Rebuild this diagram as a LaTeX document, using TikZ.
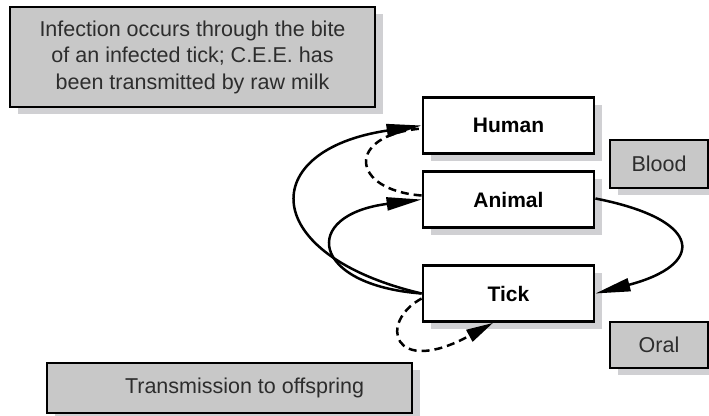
\documentclass[tikz,border=0pt]{standalone}
\usepackage{fontspec}
\setmainfont{Liberation Sans}
\usetikzlibrary{arrows.meta, shadows}
\definecolor{boxGray}{RGB}{200,200,200}
\definecolor{shadowGray}{RGB}{208,208,211}
\definecolor{textGray}{RGB}{45,45,45}

\begin{document}
\begin{tikzpicture}[x=1pt, y=-1pt,
    notebox/.style={rectangle, draw=black, line width=2.8pt, fill=boxGray,
    text=textGray, inner sep=0pt, align=center,
    font=\fontsize{21.5}{26.5}\selectfont,
    drop shadow={shadow xshift=8pt, shadow yshift=-7pt, fill=shadowGray, opacity=1}},
    hostbox/.style={notebox, fill=white, text=black, minimum width=171pt,
    minimum height=56pt, font=\fontsize{21}{24}\selectfont\bfseries},
    arrow/.style={-{Triangle[length=35pt,width=13pt]}, line width=2.5pt},
    dashline/.style={line width=2.5pt, dash pattern=on 8pt off 5pt},
    dasharrow/.style={-{Triangle[length=27pt,width=13pt]}, line width=2.5pt,
    dash pattern=on 8pt off 5pt}
]
\useasboundingbox (0,0) rectangle (709,415);
% Note
\node[notebox, minimum width=365pt, minimum height=100pt] (note) at (192.5,57) {
    Infection occurs through the bite\\
    of an infected tick; C.E.E. has\\
    been transmitted by raw milk
};
% Hosts
\node[hostbox] (human) at (508.5,125.5) {Human};
\node[hostbox] (animal) at (508.5,199.5) {Animal};
\node[hostbox] (tick) at (508.5,293.5) {Tick};
% Routes
\node[notebox, minimum width=98pt, minimum height=48pt] (blood) at (659,164) {Blood};
\node[notebox, minimum width=98pt, minimum height=46pt] (oral) at (659,345) {Oral};
% Offspring
\node[notebox, minimum width=365pt, minimum height=50pt] (offspring) at (229.5,388) {\hspace*{30pt}Transmission to offspring};

\draw[arrow] (tick.west) .. controls (258,255) and (256,150) .. (human.west);
\draw[arrow] (tick.west) .. controls (310,285) and (300,215) .. (animal.west);
\draw[dashline] ([yshift=4pt]animal.west) .. controls (350,190) and (345,135) .. ([yshift=-3pt]human.west);
\draw[arrow] ([yshift=1pt]animal.east) .. controls (705,220) and (705,265) .. (tick.east);
\draw[dasharrow] ([yshift=-5pt]tick.west) .. controls (378,322) and (392,378) .. ([xshift=-15.5pt]tick.south);
\end{tikzpicture}
\end{document}
